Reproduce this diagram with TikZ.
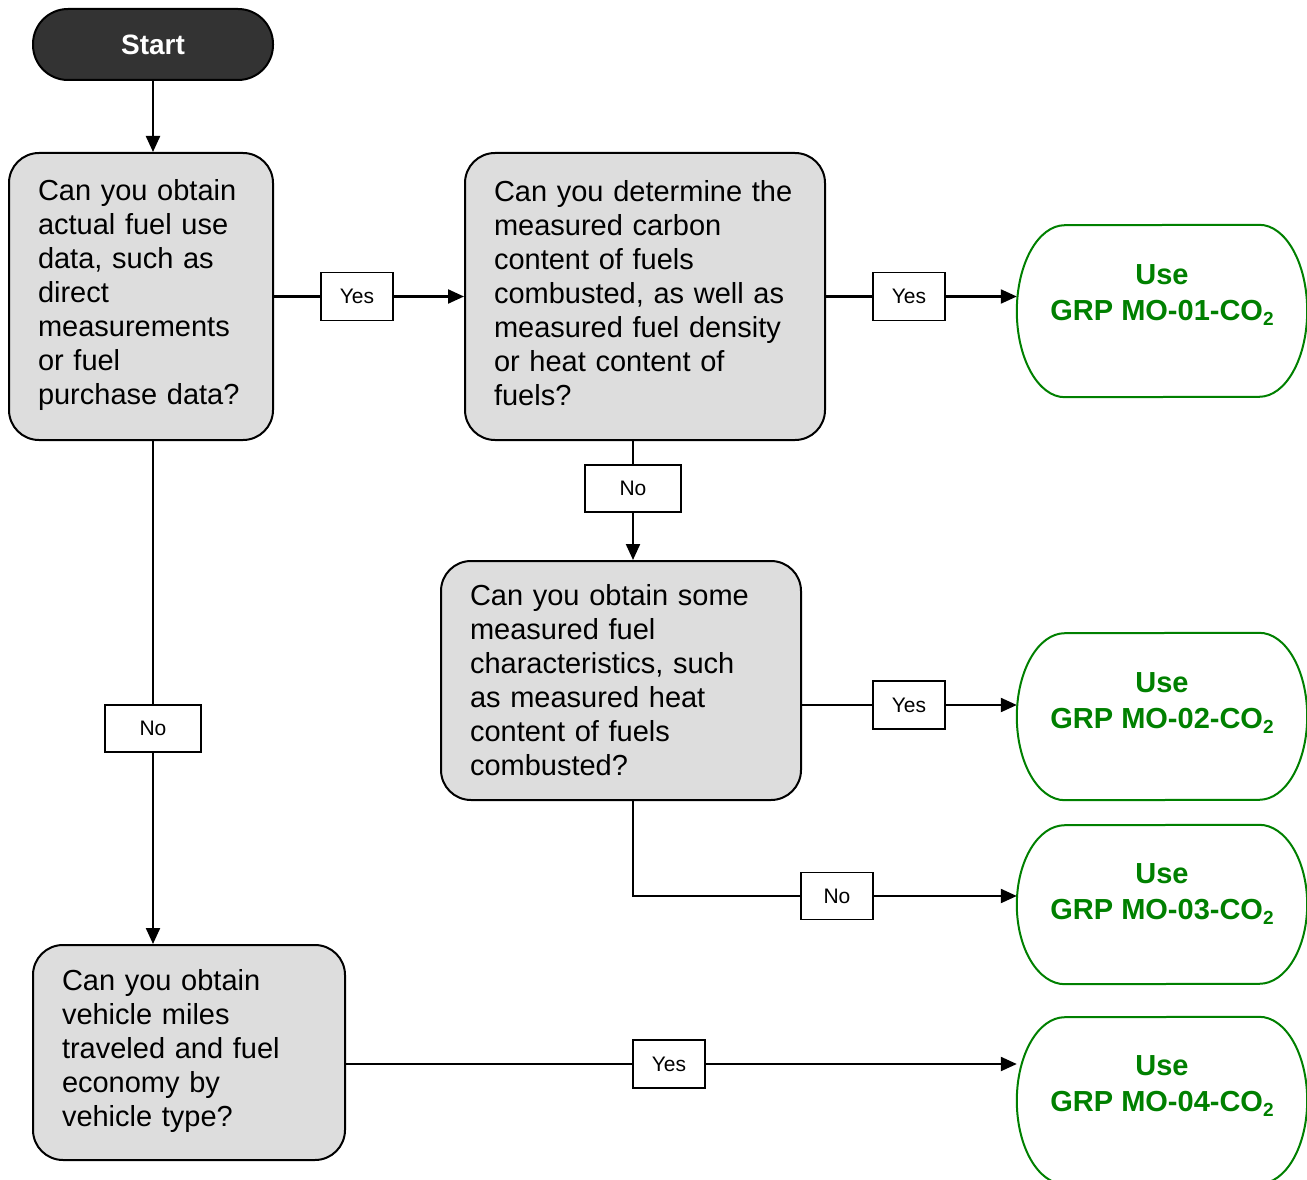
\documentclass[tikz,border=0pt]{standalone}
\usepackage{fontspec}
\setmainfont{Liberation Sans}
\usetikzlibrary{arrows.meta,calc}

\definecolor{startfill}{HTML}{333333}
\definecolor{qfill}{HTML}{DDDDDD}
\definecolor{usegreen}{HTML}{008000}

% lowered, smaller "2" for CO2
\newcommand\subtwo{\raisebox{-4.5pt}{\fontsize{19}{19}\selectfont 2}}
% invisible strut that deepens the last line of a question
\newcommand\deepen[1]{\rule[-#1]{0pt}{1pt}}

% outline of a terminal: straight top and bottom, half-ellipse ends
\newcommand\stadiumline[2]{%
  \draw[useline] ([xshift=-48pt]#1.north east)
    arc[start angle=-90,end angle=90,x radius=48,y radius=#2]
    -- ([xshift=48pt]#1.south west)
    arc[start angle=90,end angle=270,x radius=48,y radius=#2]
    -- cycle;}

\begin{document}
\begin{tikzpicture}[x=1pt,y=-1pt,
  startbox/.style={draw=black,line width=2pt,fill=startfill,rounded corners=35pt,
    minimum width=240pt,minimum height=71pt,inner sep=0pt,text=white,
    font=\bfseries\fontsize{28}{34}\selectfont},
  qbox/.style={draw=black,line width=2pt,fill=qfill,rounded corners=30pt,
    align=left,inner xsep=29pt,inner ysep=0pt,
    font=\fontsize{29}{34}\selectfont},
  termbox/.style={draw=none,inner sep=0pt,minimum width=290pt},
  useline/.style={draw=usegreen,line width=2pt},
  usetext/.style={text=usegreen,align=center,inner sep=0pt,
    font=\bfseries\fontsize{29}{36}\selectfont},
  lbl/.style={draw=black,line width=1.7pt,fill=white,inner sep=0pt,
    minimum height=48pt,font=\fontsize{21}{24}\selectfont},
  link/.style={draw=black,line width=2.2pt},
  arr/.style={link,-{Triangle[length=16pt,width=14pt]}}
]
\useasboundingbox (0,0) rectangle (1307,1180);

% start
\node[startbox] (start) at (153,44.5) {Start};

% questions
\node[qbox,text width=206pt,minimum height=287pt] (q1) at (141,296.5)
  {Can you obtain\\actual fuel use\\data, such as\\direct\\measurements\\or fuel\\purchase data?\deepen{10pt}};
\node[qbox,text width=302pt,minimum height=287pt] (q2) at (645,296.5)
  {Can you determine the\\measured carbon\\content of fuels\\combusted, as well as\\measured fuel density\\or heat content of\\fuels?\deepen{8pt}};
\node[qbox,text width=302pt,minimum height=239pt] (q3) at (621,680.5)
  {Can you obtain some\\measured fuel\\characteristics, such\\as measured heat\\content of fuels\\combusted?};
\node[qbox,text width=254pt,minimum height=215pt] (q4) at (189,1052.5)
  {Can you obtain\\vehicle miles\\traveled and fuel\\economy by\\vehicle type?\deepen{10pt}};

% terminals
\node[termbox,minimum height=172pt] (t1) at (1162,311) {};
\node[termbox,minimum height=167pt] (t2) at (1162,716.5) {};
\node[termbox,minimum height=159pt] (t3) at (1162,904.5) {};
\node[termbox,minimum height=167pt] (t4) at (1162,1100.5) {};
\stadiumline{t1}{86}
\stadiumline{t2}{83.5}
\stadiumline{t3}{79.5}
\stadiumline{t4}{83.5}
\node[usetext] (t1txt) at ([yshift=-70pt]t1.north) {Use\\GRP MO-01-CO\subtwo};
\node[usetext] (t2txt) at ([yshift=-70pt]t2.north) {Use\\GRP MO-02-CO\subtwo};
\node[usetext] (t3txt) at ([yshift=-69pt]t3.north) {Use\\GRP MO-03-CO\subtwo};
\node[usetext] (t4txt) at ([yshift=-69pt]t4.north) {Use\\GRP MO-04-CO\subtwo};

% branch labels
\node[lbl,minimum width=72pt] (yes1) at (357,296.5) {Yes};
\node[lbl,minimum width=72pt] (yes2) at (909,296.5) {Yes};
\node[lbl,minimum width=96pt,minimum height=47pt] (no1) at (633,488.5) {No};
\node[lbl,minimum width=72pt] (yes3) at (909,705) {Yes};
\node[lbl,minimum width=72pt,minimum height=47pt] (no2) at (837,896) {No};
\node[lbl,minimum width=96pt,minimum height=47pt] (no3) at (153,728.5) {No};
\node[lbl,minimum width=72pt] (yes4) at (669,1064) {Yes};

% connectors
\draw[arr] (start.south) -- (start.south |- q1.north);

\draw[link] (q1.east |- yes1) -- (yes1.west);
\draw[arr] (yes1.east) -- (yes1.east -| q2.west);

\draw[link] (q2.east |- yes2) -- (yes2.west);
\draw[arr] (yes2.east) -- (yes2.east -| t1.west);

\draw[link] (no1 |- q2.south) -- (no1.north);
\draw[arr] (no1.south) -- (no1.south |- q3.north);

\draw[link] (q3.east |- yes3) -- (yes3.west);
\draw[arr] (yes3.east) -- (yes3.east -| t2.west);

\draw[link] (no1 |- q3.south) -- (no1 |- no2) -- (no2.west);
\draw[arr] (no2.east) -- (no2.east -| t3.west);

\draw[link] (no3 |- q1.south) -- (no3.north);
\draw[arr] (no3.south) -- (no3.south |- q4.north);

\draw[link] (q4.east |- yes4) -- (yes4.west);
\draw[arr] (yes4.east) -- (yes4.east -| t4.west);
\end{tikzpicture}
\end{document}
